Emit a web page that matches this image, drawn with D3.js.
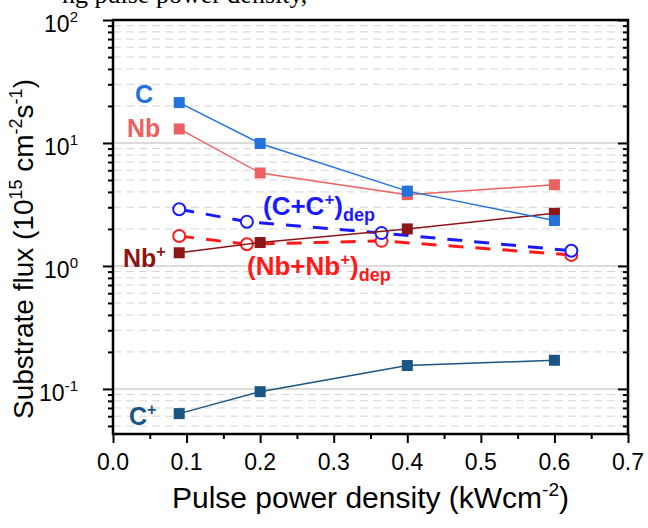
<!DOCTYPE html>
<html>
<head>
<meta charset="utf-8">
<script src="https://cdn.jsdelivr.net/npm/d3@7"></script>
<style>
  body { margin: 0; background: #fff; }
  text { font-family: Arial, "Liberation Sans", sans-serif; }
</style>
</head>
<body>
<div id="plot"></div>
<script>
// values
const powerX = [0.09, 0.2, 0.4, 0.6];
const fluxC = [21.3, 9.9, 4.06, 2.34];
const fluxNb = [13.0, 5.7, 3.8, 4.57];
const fluxNbIon = [1.28, 1.55, 2.0, 2.68];
const fluxCIon = [0.063, 0.095, 0.155, 0.171];
const depX = [0.09, 0.182, 0.365, 0.623];
const depC = [2.89, 2.29, 1.85, 1.33];
const depNb = [1.75, 1.50, 1.60, 1.23];
const xTicks = [0, 0.1, 0.2, 0.3, 0.4, 0.5, 0.6, 0.7];
const yTicks = [0.1, 1, 10, 100];
const yExp = ["-1", "0", "1", "2"];

const width = 648, height = 528;
const margin = { top: 20, right: 20, bottom: 94, left: 113 };

const svg = d3.select("#plot").append("svg")
  .attr("width", width)
  .attr("height", height)
  .style("background-color", "white");

const x = d3.scaleLinear().domain([0, 0.7]).range([margin.left, width - margin.right]);
const y = d3.scaleLog().domain([0.043, 100]).range([height - margin.bottom, margin.top]);

// minor values 2..9 x 10^n inside the domain
const yMinor = [];
[0.01, 0.1, 1, 10].forEach(d => {
  for (let k = 2; k <= 9; k++) {
    const v = d * k;
    if (v >= 0.043 && v < 100) yMinor.push(v);
  }
});
const xMinor = xTicks.slice(0, -1).map(d => d + 0.05);

// cropped caption line from the page above the figure
svg.append("text")
  .attr("x", 62).attr("y", 3)
  .style("font-family", "'Liberation Serif', 'Times New Roman', serif")
  .style("font-size", "26px")
  .text("ng pulse power density,");

// grid
svg.append("g").selectAll("line")
  .data(yMinor).enter().append("line")
  .attr("x1", margin.left).attr("x2", width - margin.right)
  .attr("y1", d => y(d)).attr("y2", d => y(d))
  .attr("stroke", "#d4d4d4").attr("stroke-width", 1)
  .attr("stroke-dasharray", "8,5");
svg.append("g").selectAll("line")
  .data(yTicks.slice(0, 3)).enter().append("line")
  .attr("x1", margin.left).attr("x2", width - margin.right)
  .attr("y1", d => y(d)).attr("y2", d => y(d))
  .attr("stroke", "#cfcfcf").attr("stroke-width", 1.5);

// axes
const axisStyle = g => {
  g.select(".domain").remove();
  g.selectAll("line").attr("stroke", "#000").attr("stroke-width", 2);
  g.selectAll("text").remove();
};
svg.append("g").attr("transform", `translate(${margin.left},0)`)
  .call(d3.axisLeft(y).tickValues(yTicks).tickSize(10)).call(axisStyle);
svg.append("g").attr("transform", `translate(${margin.left},0)`)
  .call(d3.axisLeft(y).tickValues(yMinor).tickSize(5)).call(axisStyle);
svg.append("g").attr("transform", `translate(${width - margin.right},0)`)
  .call(d3.axisLeft(y).tickValues(yTicks).tickSize(10)).call(axisStyle);
svg.append("g").attr("transform", `translate(${width - margin.right},0)`)
  .call(d3.axisLeft(y).tickValues(yMinor).tickSize(5)).call(axisStyle);
svg.append("g").attr("transform", `translate(0,${height - margin.bottom})`)
  .call(d3.axisBottom(x).tickValues(xTicks).tickSize(9)).call(axisStyle);
svg.append("g").attr("transform", `translate(0,${height - margin.bottom})`)
  .call(d3.axisBottom(x).tickValues(xMinor).tickSize(5)).call(axisStyle);

// frame
svg.append("rect")
  .attr("x", margin.left).attr("y", margin.top)
  .attr("width", width - margin.left - margin.right)
  .attr("height", height - margin.top - margin.bottom)
  .attr("fill", "none").attr("stroke", "#000").attr("stroke-width", 2.5);

// tick labels
svg.append("g").selectAll("text")
  .data(xTicks).enter().append("text")
  .attr("x", d => x(d)).attr("y", 470)
  .attr("text-anchor", "middle")
  .style("font-size", "23px")
  .text(d => d.toFixed(1));
const yl = svg.append("g").selectAll("text")
  .data(yTicks).enter().append("text")
  .attr("x", 78).attr("y", d => y(d) + 12)
  .attr("text-anchor", "end")
  .style("font-size", "23px");
yl.append("tspan").text("10");
yl.append("tspan").attr("dy", -10).style("font-size", "15px").text((d, i) => yExp[i]);

// axis titles
const xt = svg.append("text")
  .attr("x", (margin.left + width - margin.right) / 2).attr("y", 508)
  .attr("text-anchor", "middle")
  .style("font-size", "30px");
xt.append("tspan").text("Pulse power density (kWcm");
xt.append("tspan").attr("dy", -12).style("font-size", "19px").text("-2");
xt.append("tspan").attr("dy", 12).text(")");

const yt = svg.append("text")
  .attr("transform", `translate(33,${(margin.top + height - margin.bottom) / 2 + 22}) rotate(-90)`)
  .attr("text-anchor", "middle")
  .style("font-size", "28px");
yt.append("tspan").text("Substrate flux (10");
yt.append("tspan").attr("dy", -11).style("font-size", "18px").text("15");
yt.append("tspan").attr("dy", 11).text(" cm");
yt.append("tspan").attr("dy", -11).style("font-size", "18px").text("-2");
yt.append("tspan").attr("dy", 11).text("s");
yt.append("tspan").attr("dy", -11).style("font-size", "18px").text("-1");
yt.append("tspan").attr("dy", 11).text(")");

// series
const line = d3.line().x(d => x(d[0])).y(d => y(d[1]));

function depSeries(vals, color) {
  const pts = depX.map((d, i) => [d, vals[i]]);
  svg.append("path").datum(pts)
    .attr("fill", "none").attr("stroke", color)
    .attr("stroke-width", 3).attr("stroke-dasharray", "15,12")
    .attr("d", line);
  svg.append("g").selectAll("circle")
    .data(pts).enter().append("circle")
    .attr("cx", d => x(d[0])).attr("cy", d => y(d[1]))
    .attr("r", 6).attr("fill", "#fff")
    .attr("stroke", color).attr("stroke-width", 2);
}

function fluxSeries(vals, color) {
  const pts = powerX.map((d, i) => [d, vals[i]]);
  svg.append("path").datum(pts)
    .attr("fill", "none").attr("stroke", color)
    .attr("stroke-width", 1.5)
    .attr("d", line);
  svg.append("g").selectAll("rect")
    .data(pts).enter().append("rect")
    .attr("x", d => x(d[0]) - 5.5).attr("y", d => y(d[1]) - 5.5)
    .attr("width", 11).attr("height", 11)
    .attr("fill", color);
}

depSeries(depNb, "#ff1a1a");
depSeries(depC, "#1a1aff");
fluxSeries(fluxCIon, "#1a5583");
fluxSeries(fluxNbIon, "#8c1515");
fluxSeries(fluxNb, "#ec6262");
fluxSeries(fluxC, "#2472dc");

// series labels
function label(xp, yp, color, main, sup) {
  const t = svg.append("text")
    .attr("x", xp).attr("y", yp)
    .attr("fill", color)
    .style("font-size", "25px").style("font-weight", "bold");
  t.append("tspan").text(main);
  if (sup) t.append("tspan").attr("dy", -10).style("font-size", "16px").text(sup);
  return t;
}
label(135, 103, "#2472dc", "C");
label(127, 137, "#ec6262", "Nb");
label(123, 267, "#8c1515", "Nb", "+");
label(129, 425, "#1a5583", "C", "+");

function depLabel(xp, yp, color, main) {
  const t = svg.append("text").attr("x", xp).attr("y", yp)
    .attr("fill", color).style("font-size", "26px").style("font-weight", "bold");
  t.append("tspan").text(main);
  t.append("tspan").attr("dy", -10).style("font-size", "17px").text("+");
  t.append("tspan").attr("dy", 10).text(")");
  t.append("tspan").attr("dy", 6).style("font-size", "18px").text("dep");
}
depLabel(263, 215, "#1a1aff", "(C+C");
depLabel(247, 275, "#ff1a1a", "(Nb+Nb");
</script>
</body>
</html>
